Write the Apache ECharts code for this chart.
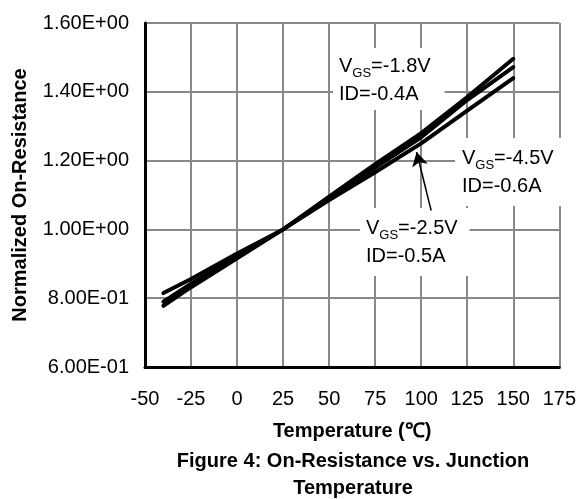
<!DOCTYPE html>
<html>
<head>
<meta charset="utf-8">
<script src="https://cdn.jsdelivr.net/npm/echarts@6/dist/echarts.min.js"></script>
<style>
  html, body { margin: 0; padding: 0; background: #fff; }
  #chart { width: 579px; height: 499px; }
</style>
</head>
<body>
<div id="chart"></div>
<script>
// temperature points (degC)
const temps = [-40, -25, 0, 25, 50, 75, 100, 125, 150]
// normalized on-resistance, one array per curve
const rds25 = [0.815, 0.856, 0.930, 1.0, 1.085, 1.166, 1.250, 1.345, 1.440] // VGS=-2.5V
const rds45 = [0.790, 0.842, 0.921, 1.0, 1.090, 1.180, 1.268, 1.376, 1.472] // VGS=-4.5V
const rds18 = [0.778, 0.832, 0.916, 1.0, 1.095, 1.190, 1.280, 1.385, 1.496] // VGS=-1.8V
// arrow from the -2.5V label to its curve: [tail, tip]
const arrowPts = [[105.4, 1.055], [97.5, 1.225]]

const FONT = 'Arial, "Liberation Sans", sans-serif'

const chart = echarts.init(document.getElementById('chart'))

const sci = v => {
  const e = Math.floor(Math.log10(v) + 1e-9)
  const m = v / Math.pow(10, e)
  return m.toFixed(2) + 'E' + (e < 0 ? '-' : '+') + String(Math.abs(e)).padStart(2, '0')
}

const pairs = ys => temps.map((t, i) => [t, ys[i]])

const lineSeries = (name, ys) => ({
  name,
  type: 'line',
  data: pairs(ys),
  symbol: 'none',
  lineStyle: { color: '#000', width: 4, join: 'round', cap: 'round' },
  emphasis: { disabled: true },
  silent: true
})

const rich = {
  a: { fontSize: 20, fontFamily: FONT, color: '#000', lineHeight: 28 },
  s: { fontSize: 13, fontFamily: FONT, color: '#000', lineHeight: 20, verticalAlign: 'bottom' }
}

// white label boxes sit above the grid lines but under the curves
const note = (x, y, v, id, pad) => ({
  type: 'text',
  x, y,
  z: 1,
  style: {
    text: '{a|V}{s|GS}{a|=' + v + '}\n{a|ID=' + id + '}',
    rich,
    backgroundColor: '#fff',
    padding: pad
  }
})

const option = {
  animation: false,
  grid: { left: 145, right: 17, top: 23, bottom: 132 },
  xAxis: {
    type: 'value',
    min: -50,
    max: 175,
    interval: 25,
    name: 'Temperature (℃)',
    nameLocation: 'middle',
    nameGap: 54,
    nameTextStyle: { fontFamily: FONT, fontSize: 20, fontWeight: 'bold', color: '#000' },
    axisLine: { show: true, onZero: false, lineStyle: { color: '#000', width: 3 } },
    axisTick: { show: false },
    axisLabel: { fontFamily: FONT, fontSize: 20, color: '#000', margin: 22 },
    splitLine: { show: true, showMinLine: false, lineStyle: { color: '#888', width: 2 } }
  },
  yAxis: {
    type: 'value',
    min: 0.6,
    max: 1.6,
    interval: 0.2,
    name: 'Normalized On-Resistance',
    nameLocation: 'middle',
    nameGap: 115,
    nameTextStyle: { fontFamily: FONT, fontSize: 20, fontWeight: 'bold', color: '#000' },
    axisLine: { show: true, onZero: false, lineStyle: { color: '#000', width: 3 } },
    axisTick: { show: false },
    axisLabel: { fontFamily: FONT, fontSize: 20, color: '#000', margin: 16, formatter: sci },
    splitLine: { show: true, showMinLine: false, lineStyle: { color: '#888', width: 2 } }
  },
  series: [
    lineSeries('VGS=-1.8V', rds18),
    lineSeries('VGS=-4.5V', rds45),
    Object.assign(lineSeries('VGS=-2.5V', rds25), {
      markLine: {
        silent: true,
        symbol: ['none', 'arrow'],
        symbolSize: [12, 14],
        label: { show: false },
        lineStyle: { color: '#000', width: 1.5, type: 'solid' },
        data: [[{ coord: arrowPts[0] }, { coord: arrowPts[1] }]]
      }
    })
  ],
  graphic: [
    note(333, 48, '-1.8V', '-0.4A', [4, 14, 2, 6]),
    note(455, 138, '-4.5V', '-0.6A', [6, 16, 6, 7]),
    note(360, 208, '-2.5V', '-0.5A', [6, 12, 6, 6]),
    {
      type: 'text',
      x: 353,
      y: 448,
      style: {
        text: 'Figure 4: On-Resistance vs. Junction\nTemperature',
        fontFamily: FONT,
        fontSize: 20,
        fontWeight: 'bold',
        fill: '#000',
        align: 'center',
        lineHeight: 27
      }
    }
  ]
}

chart.setOption(option)
</script>
</body>
</html>
